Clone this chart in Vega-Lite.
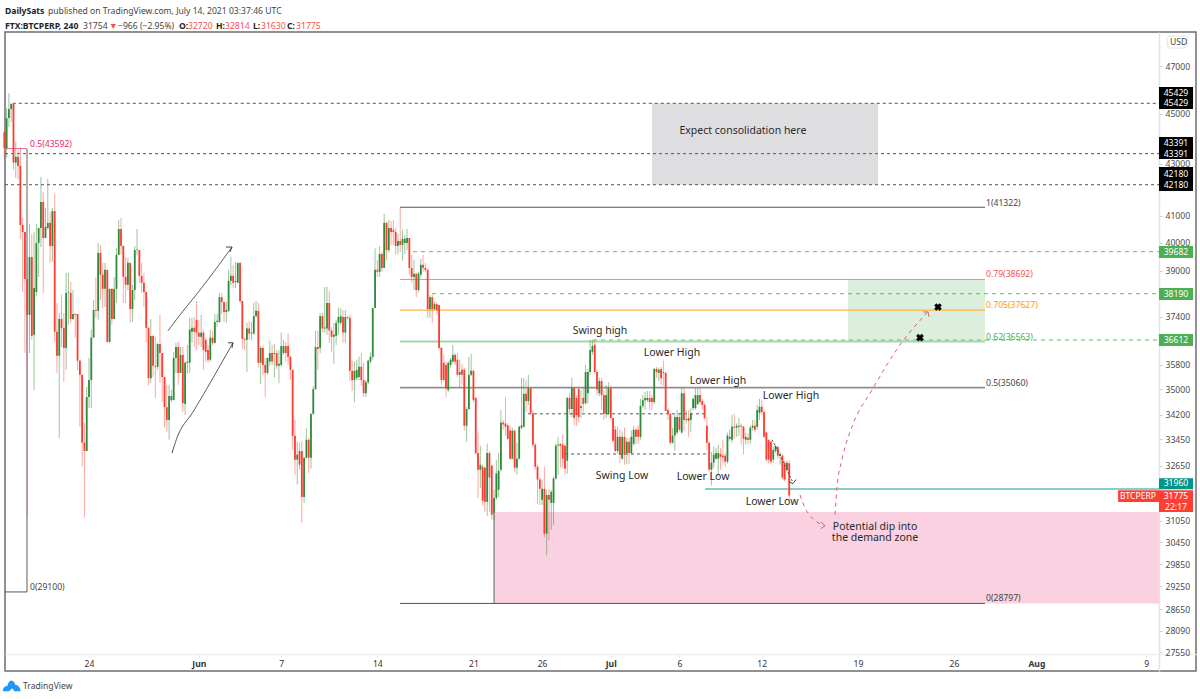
{
"$schema":"https://vega.github.io/schema/vega-lite/v6.json",
"description":"BTCPERP 4h candles with fib levels and annotations",
"width":1191,"height":639,
"autosize":{"type":"none"},
"padding":{"left":5,"top":32,"right":4,"bottom":28},
"background":"#ffffff",
"view":{"stroke":"#6e6e6e","strokeWidth":1.5,"fill":"#ffffff"},
"datasets":{
"zones":[
{"t":"2021-07-04T00:00Z","t2":"2021-07-20T11:15Z","p":45429,"p2":42180,"kind":"consolidation"},
{"t":"2021-07-18T06:43Z","t2":"2021-07-28T06:15Z","p":38692,"p2":36563,"kind":"target"},
{"t":"2021-06-22T12:00Z","t2":"2021-08-09T22:20Z","p":31300,"p2":28797,"kind":"demand"}
],
"candles":[
{"t":"2021-05-17T20:00Z","o":44260,"h":44300,"l":43220,"c":43610},
{"t":"2021-05-18T00:00Z","o":43610,"h":45230,"l":43220,"c":44820},
{"t":"2021-05-18T04:00Z","o":44820,"h":45850,"l":44460,"c":45190},
{"t":"2021-05-18T08:00Z","o":45190,"h":45440,"l":44660,"c":45400},
{"t":"2021-05-18T12:00Z","o":45400,"h":45400,"l":42750,"c":43040},
{"t":"2021-05-18T16:00Z","o":43040,"h":43870,"l":42450,"c":43270},
{"t":"2021-05-18T20:00Z","o":43270,"h":43530,"l":42370,"c":42910},
{"t":"2021-05-19T00:00Z","o":42910,"h":43650,"l":40150,"c":40660},
{"t":"2021-05-19T04:00Z","o":40660,"h":40920,"l":38250,"c":40400},
{"t":"2021-05-19T08:00Z","o":40400,"h":40400,"l":36180,"c":38710},
{"t":"2021-05-19T12:00Z","o":38710,"h":39570,"l":31140,"c":37460},
{"t":"2021-05-19T16:00Z","o":37460,"h":40700,"l":36180,"c":39490},
{"t":"2021-05-19T20:00Z","o":39490,"h":40330,"l":36620,"c":36750},
{"t":"2021-05-20T00:00Z","o":36790,"h":40400,"l":34980,"c":38390},
{"t":"2021-05-20T04:00Z","o":38250,"h":40700,"l":38110,"c":40000},
{"t":"2021-05-20T08:00Z","o":40000,"h":40550,"l":38780,"c":40550},
{"t":"2021-05-20T12:00Z","o":40550,"h":42480,"l":39850,"c":41520},
{"t":"2021-05-20T16:00Z","o":41520,"h":41900,"l":38220,"c":40180},
{"t":"2021-05-20T20:00Z","o":40180,"h":41290,"l":40180,"c":40590},
{"t":"2021-05-21T00:00Z","o":40550,"h":42400,"l":40480,"c":40740},
{"t":"2021-05-21T04:00Z","o":40740,"h":41150,"l":39280,"c":39890},
{"t":"2021-05-21T08:00Z","o":39890,"h":41290,"l":39320,"c":41180},
{"t":"2021-05-21T12:00Z","o":41180,"h":41820,"l":36550,"c":36890},
{"t":"2021-05-21T16:00Z","o":36890,"h":37870,"l":35530,"c":36090},
{"t":"2021-05-21T20:00Z","o":36090,"h":37520,"l":33490,"c":37320},
{"t":"2021-05-22T00:00Z","o":37320,"h":38150,"l":36380,"c":37020},
{"t":"2021-05-22T04:00Z","o":37020,"h":37520,"l":35230,"c":36350},
{"t":"2021-05-22T08:00Z","o":36350,"h":38920,"l":35630,"c":38220},
{"t":"2021-05-22T12:00Z","o":38220,"h":38920,"l":37120,"c":38240},
{"t":"2021-05-22T16:00Z","o":38220,"h":38600,"l":37190,"c":37320},
{"t":"2021-05-22T20:00Z","o":37320,"h":38320,"l":37290,"c":37490},
{"t":"2021-05-23T00:00Z","o":37490,"h":37520,"l":36690,"c":37460},
{"t":"2021-05-23T04:00Z","o":37490,"h":37490,"l":35630,"c":35930},
{"t":"2021-05-23T08:00Z","o":35930,"h":35960,"l":33830,"c":35470},
{"t":"2021-05-23T12:00Z","o":35470,"h":35470,"l":32620,"c":33340},
{"t":"2021-05-23T16:00Z","o":33340,"h":33950,"l":31140,"c":33090},
{"t":"2021-05-23T20:00Z","o":33090,"h":35080,"l":33090,"c":34760},
{"t":"2021-05-24T00:00Z","o":34760,"h":36020,"l":34410,"c":35300},
{"t":"2021-05-24T04:00Z","o":35300,"h":36960,"l":34410,"c":36690},
{"t":"2021-05-24T08:00Z","o":36690,"h":37970,"l":36690,"c":37630},
{"t":"2021-05-24T12:00Z","o":37630,"h":38750,"l":37360,"c":37600},
{"t":"2021-05-24T16:00Z","o":37600,"h":40000,"l":37290,"c":39640},
{"t":"2021-05-24T20:00Z","o":39640,"h":39930,"l":37970,"c":38860},
{"t":"2021-05-25T00:00Z","o":38860,"h":39280,"l":37700,"c":38360},
{"t":"2021-05-25T04:00Z","o":38360,"h":39280,"l":37730,"c":39030},
{"t":"2021-05-25T08:00Z","o":39030,"h":39030,"l":36520,"c":36550},
{"t":"2021-05-25T12:00Z","o":36550,"h":38360,"l":36520,"c":38360},
{"t":"2021-05-25T16:00Z","o":38360,"h":38390,"l":37120,"c":37320},
{"t":"2021-05-25T20:00Z","o":37320,"h":38780,"l":37320,"c":38360},
{"t":"2021-05-26T00:00Z","o":38360,"h":39820,"l":37870,"c":39570},
{"t":"2021-05-26T04:00Z","o":39570,"h":40850,"l":39570,"c":40510},
{"t":"2021-05-26T08:00Z","o":40510,"h":40920,"l":39570,"c":39890},
{"t":"2021-05-26T12:00Z","o":39890,"h":39930,"l":37870,"c":38780},
{"t":"2021-05-26T16:00Z","o":38780,"h":39490,"l":37870,"c":38500},
{"t":"2021-05-26T20:00Z","o":38500,"h":39460,"l":38320,"c":39280},
{"t":"2021-05-27T00:00Z","o":39280,"h":39280,"l":37190,"c":37660},
{"t":"2021-05-27T04:00Z","o":37660,"h":38500,"l":37220,"c":38320},
{"t":"2021-05-27T08:00Z","o":38320,"h":39890,"l":37970,"c":39740},
{"t":"2021-05-27T12:00Z","o":39740,"h":40510,"l":39570,"c":39760},
{"t":"2021-05-27T16:00Z","o":39740,"h":39740,"l":38570,"c":38820},
{"t":"2021-05-27T20:00Z","o":38820,"h":39280,"l":38220,"c":38570},
{"t":"2021-05-28T00:00Z","o":38570,"h":38920,"l":37730,"c":38250},
{"t":"2021-05-28T04:00Z","o":38250,"h":38280,"l":36520,"c":37020},
{"t":"2021-05-28T08:00Z","o":37020,"h":37050,"l":35130,"c":35360},
{"t":"2021-05-28T12:00Z","o":35360,"h":37320,"l":35210,"c":36750},
{"t":"2021-05-28T16:00Z","o":36750,"h":36790,"l":35400,"c":35760},
{"t":"2021-05-28T20:00Z","o":35760,"h":36720,"l":34730,"c":35730},
{"t":"2021-05-29T00:00Z","o":35730,"h":36520,"l":35630,"c":36480},
{"t":"2021-05-29T04:00Z","o":36480,"h":37460,"l":35230,"c":36180},
{"t":"2021-05-29T08:00Z","o":36180,"h":36180,"l":34600,"c":35400},
{"t":"2021-05-29T12:00Z","o":35400,"h":35400,"l":33800,"c":34440},
{"t":"2021-05-29T16:00Z","o":34440,"h":35150,"l":33680,"c":34040},
{"t":"2021-05-29T20:00Z","o":34040,"h":35150,"l":33430,"c":34790},
{"t":"2021-05-30T00:00Z","o":34660,"h":34980,"l":34600,"c":34790},
{"t":"2021-05-30T04:00Z","o":34660,"h":36210,"l":34660,"c":36020},
{"t":"2021-05-30T08:00Z","o":36020,"h":36520,"l":35530,"c":36380},
{"t":"2021-05-30T12:00Z","o":36380,"h":36550,"l":35150,"c":35530},
{"t":"2021-05-30T16:00Z","o":35530,"h":36380,"l":35530,"c":36120},
{"t":"2021-05-30T20:00Z","o":36120,"h":36380,"l":34290,"c":34570},
{"t":"2021-05-31T00:00Z","o":34540,"h":35900,"l":34200,"c":35860},
{"t":"2021-05-31T04:00Z","o":35860,"h":36450,"l":35500,"c":35900},
{"t":"2021-05-31T08:00Z","o":35860,"h":37360,"l":35530,"c":36960},
{"t":"2021-05-31T12:00Z","o":36890,"h":37360,"l":36520,"c":37020},
{"t":"2021-05-31T16:00Z","o":37020,"h":37390,"l":36380,"c":36890},
{"t":"2021-05-31T20:00Z","o":37290,"h":37940,"l":36280,"c":36860},
{"t":"2021-06-01T00:00Z","o":36860,"h":37290,"l":36450,"c":36720},
{"t":"2021-06-01T04:00Z","o":36720,"h":37460,"l":36380,"c":36860},
{"t":"2021-06-01T08:00Z","o":36860,"h":36960,"l":35630,"c":36280},
{"t":"2021-06-01T12:00Z","o":36620,"h":36690,"l":35900,"c":36220},
{"t":"2021-06-01T16:00Z","o":36280,"h":36450,"l":35860,"c":35960},
{"t":"2021-06-01T20:00Z","o":35960,"h":36960,"l":35900,"c":36690},
{"t":"2021-06-02T00:00Z","o":36690,"h":36930,"l":36450,"c":36520},
{"t":"2021-06-02T04:00Z","o":36520,"h":37490,"l":36490,"c":37220},
{"t":"2021-06-02T08:00Z","o":37220,"h":37490,"l":37050,"c":37260},
{"t":"2021-06-02T12:00Z","o":37220,"h":38220,"l":37190,"c":38070},
{"t":"2021-06-02T16:00Z","o":38070,"h":38220,"l":37490,"c":37900},
{"t":"2021-06-02T20:00Z","o":37900,"h":37900,"l":37220,"c":37560},
{"t":"2021-06-03T00:00Z","o":37560,"h":37900,"l":37190,"c":37630},
{"t":"2021-06-03T04:00Z","o":37600,"h":39030,"l":37560,"c":38640},
{"t":"2021-06-03T08:00Z","o":38640,"h":39500,"l":38500,"c":38820},
{"t":"2021-06-03T12:00Z","o":38820,"h":39210,"l":38390,"c":38570},
{"t":"2021-06-03T16:00Z","o":38600,"h":39320,"l":38390,"c":38640},
{"t":"2021-06-03T20:00Z","o":38570,"h":39280,"l":38570,"c":39280},
{"t":"2021-06-04T00:00Z","o":39280,"h":39280,"l":37870,"c":37940},
{"t":"2021-06-04T04:00Z","o":37940,"h":37940,"l":36310,"c":36650},
{"t":"2021-06-04T08:00Z","o":36650,"h":36690,"l":36280,"c":36620},
{"t":"2021-06-04T12:00Z","o":36620,"h":37190,"l":35560,"c":37000},
{"t":"2021-06-04T16:00Z","o":37000,"h":37260,"l":36620,"c":36830},
{"t":"2021-06-04T20:00Z","o":36830,"h":37220,"l":36620,"c":36860},
{"t":"2021-06-05T00:00Z","o":36830,"h":37870,"l":36790,"c":37420},
{"t":"2021-06-05T04:00Z","o":37420,"h":37940,"l":37360,"c":37600},
{"t":"2021-06-05T08:00Z","o":37600,"h":37870,"l":35700,"c":35860},
{"t":"2021-06-05T12:00Z","o":35860,"h":36420,"l":35170,"c":36350},
{"t":"2021-06-05T16:00Z","o":36350,"h":36420,"l":35470,"c":35790},
{"t":"2021-06-05T20:00Z","o":35790,"h":36020,"l":34760,"c":35530},
{"t":"2021-06-06T00:00Z","o":35530,"h":36020,"l":35470,"c":36020},
{"t":"2021-06-06T04:00Z","o":35900,"h":36590,"l":35770,"c":36180},
{"t":"2021-06-06T08:00Z","o":36180,"h":36450,"l":35790,"c":35900},
{"t":"2021-06-06T12:00Z","o":36150,"h":36490,"l":35370,"c":36180},
{"t":"2021-06-06T16:00Z","o":36180,"h":36280,"l":35660,"c":35760},
{"t":"2021-06-06T20:00Z","o":35760,"h":36280,"l":35200,"c":35830},
{"t":"2021-06-07T00:00Z","o":35790,"h":36860,"l":35730,"c":36410},
{"t":"2021-06-07T04:00Z","o":36180,"h":36620,"l":36120,"c":36410},
{"t":"2021-06-07T08:00Z","o":36410,"h":36550,"l":35900,"c":36180},
{"t":"2021-06-07T12:00Z","o":36410,"h":36830,"l":35790,"c":36060},
{"t":"2021-06-07T16:00Z","o":36060,"h":36090,"l":35300,"c":35630},
{"t":"2021-06-07T20:00Z","o":35630,"h":35630,"l":33120,"c":33550},
{"t":"2021-06-08T00:00Z","o":33550,"h":34040,"l":32380,"c":32830},
{"t":"2021-06-08T04:00Z","o":32830,"h":33370,"l":32090,"c":32980},
{"t":"2021-06-08T08:00Z","o":33090,"h":33340,"l":32530,"c":32680},
{"t":"2021-06-08T12:00Z","o":33090,"h":33400,"l":30990,"c":31730},
{"t":"2021-06-08T16:00Z","o":31730,"h":32890,"l":31560,"c":32890},
{"t":"2021-06-08T20:00Z","o":32890,"h":33800,"l":32860,"c":33430},
{"t":"2021-06-09T00:00Z","o":33430,"h":33490,"l":32440,"c":32890},
{"t":"2021-06-09T04:00Z","o":32890,"h":34230,"l":32560,"c":34230},
{"t":"2021-06-09T08:00Z","o":34230,"h":35110,"l":34200,"c":35010},
{"t":"2021-06-09T12:00Z","o":35010,"h":36930,"l":34980,"c":36380},
{"t":"2021-06-09T16:00Z","o":36380,"h":36930,"l":35630,"c":36310},
{"t":"2021-06-09T20:00Z","o":36350,"h":37520,"l":36180,"c":37420},
{"t":"2021-06-10T00:00Z","o":37420,"h":37520,"l":36860,"c":37000},
{"t":"2021-06-10T04:00Z","o":37000,"h":38430,"l":36860,"c":37030},
{"t":"2021-06-10T08:00Z","o":37000,"h":38430,"l":36790,"c":37870},
{"t":"2021-06-10T12:00Z","o":37870,"h":38280,"l":36520,"c":36930},
{"t":"2021-06-10T16:00Z","o":36930,"h":37050,"l":36220,"c":36720},
{"t":"2021-06-10T20:00Z","o":36720,"h":37190,"l":35830,"c":36790},
{"t":"2021-06-11T00:00Z","o":36750,"h":37290,"l":36450,"c":37190},
{"t":"2021-06-11T04:00Z","o":37190,"h":37700,"l":36790,"c":37390},
{"t":"2021-06-11T08:00Z","o":37190,"h":37700,"l":37120,"c":37420},
{"t":"2021-06-11T12:00Z","o":37390,"h":37630,"l":36520,"c":36860},
{"t":"2021-06-11T16:00Z","o":36860,"h":37630,"l":36520,"c":37390},
{"t":"2021-06-11T20:00Z","o":37390,"h":37420,"l":37290,"c":37360},
{"t":"2021-06-12T00:00Z","o":37360,"h":37460,"l":35270,"c":35600},
{"t":"2021-06-12T04:00Z","o":35600,"h":35930,"l":34950,"c":35300},
{"t":"2021-06-12T08:00Z","o":35300,"h":35900,"l":34600,"c":35600},
{"t":"2021-06-12T12:00Z","o":35370,"h":35960,"l":35300,"c":35630},
{"t":"2021-06-12T16:00Z","o":35400,"h":36060,"l":35300,"c":35730},
{"t":"2021-06-12T20:00Z","o":35730,"h":36180,"l":35110,"c":35300},
{"t":"2021-06-13T00:00Z","o":35300,"h":35860,"l":34760,"c":34880},
{"t":"2021-06-13T04:00Z","o":34880,"h":35300,"l":34760,"c":35230},
{"t":"2021-06-13T08:00Z","o":35230,"h":35960,"l":35170,"c":35930},
{"t":"2021-06-13T12:00Z","o":35900,"h":36200,"l":35830,"c":36060},
{"t":"2021-06-13T16:00Z","o":36060,"h":37700,"l":35960,"c":37700},
{"t":"2021-06-13T20:00Z","o":37700,"h":39800,"l":37700,"c":39030},
{"t":"2021-06-14T00:00Z","o":39030,"h":39390,"l":38780,"c":38960},
{"t":"2021-06-14T04:00Z","o":38960,"h":39890,"l":38780,"c":39600},
{"t":"2021-06-14T08:00Z","o":39600,"h":39670,"l":38960,"c":39100},
{"t":"2021-06-14T12:00Z","o":39100,"h":41070,"l":39100,"c":40740},
{"t":"2021-06-14T16:00Z","o":40740,"h":40780,"l":39360,"c":39740},
{"t":"2021-06-14T20:00Z","o":39740,"h":40850,"l":39670,"c":40550},
{"t":"2021-06-15T00:00Z","o":40550,"h":40810,"l":39930,"c":40400},
{"t":"2021-06-15T04:00Z","o":40480,"h":40850,"l":39930,"c":40400},
{"t":"2021-06-15T08:00Z","o":40400,"h":40550,"l":39570,"c":39890},
{"t":"2021-06-15T12:00Z","o":39890,"h":40330,"l":39600,"c":40070},
{"t":"2021-06-15T16:00Z","o":40070,"h":41320,"l":39670,"c":39930},
{"t":"2021-06-15T20:00Z","o":39930,"h":40480,"l":39360,"c":40150},
{"t":"2021-06-16T00:00Z","o":40000,"h":40290,"l":39600,"c":40150},
{"t":"2021-06-16T04:00Z","o":40000,"h":40510,"l":39740,"c":40180},
{"t":"2021-06-16T08:00Z","o":40180,"h":40180,"l":38860,"c":39100},
{"t":"2021-06-16T12:00Z","o":39100,"h":39570,"l":38570,"c":38780},
{"t":"2021-06-16T16:00Z","o":38780,"h":39390,"l":38320,"c":38890},
{"t":"2021-06-16T20:00Z","o":38890,"h":38920,"l":38070,"c":38320},
{"t":"2021-06-17T00:00Z","o":38320,"h":38960,"l":38250,"c":38890},
{"t":"2021-06-17T04:00Z","o":38860,"h":39420,"l":38750,"c":39210},
{"t":"2021-06-17T08:00Z","o":39210,"h":39570,"l":38960,"c":39100},
{"t":"2021-06-17T12:00Z","o":39100,"h":39280,"l":38960,"c":39030},
{"t":"2021-06-17T16:00Z","o":39030,"h":39070,"l":37360,"c":37660},
{"t":"2021-06-17T20:00Z","o":37660,"h":38140,"l":37360,"c":38070},
{"t":"2021-06-18T00:00Z","o":38070,"h":38140,"l":37190,"c":37660},
{"t":"2021-06-18T04:00Z","o":37660,"h":37900,"l":37630,"c":37830},
{"t":"2021-06-18T08:00Z","o":37830,"h":37900,"l":37460,"c":37630},
{"t":"2021-06-18T12:00Z","o":37800,"h":37800,"l":36280,"c":36350},
{"t":"2021-06-18T16:00Z","o":36350,"h":36380,"l":35140,"c":35300},
{"t":"2021-06-18T20:00Z","o":35860,"h":36120,"l":35240,"c":35300},
{"t":"2021-06-19T00:00Z","o":35790,"h":35900,"l":34760,"c":35040},
{"t":"2021-06-19T04:00Z","o":34980,"h":35900,"l":34920,"c":35860},
{"t":"2021-06-19T08:00Z","o":35790,"h":36020,"l":35700,"c":35960},
{"t":"2021-06-19T12:00Z","o":35900,"h":36450,"l":35830,"c":36120},
{"t":"2021-06-19T16:00Z","o":36120,"h":36180,"l":35790,"c":35900},
{"t":"2021-06-19T20:00Z","o":35960,"h":36180,"l":35400,"c":35470},
{"t":"2021-06-20T00:00Z","o":35470,"h":35960,"l":35050,"c":35560},
{"t":"2021-06-20T04:00Z","o":35630,"h":35830,"l":35140,"c":35470},
{"t":"2021-06-20T08:00Z","o":35630,"h":35700,"l":33710,"c":33860},
{"t":"2021-06-20T12:00Z","o":33860,"h":34440,"l":33370,"c":34380},
{"t":"2021-06-20T16:00Z","o":34380,"h":36050,"l":34350,"c":35470},
{"t":"2021-06-20T20:00Z","o":35470,"h":36150,"l":35430,"c":35600},
{"t":"2021-06-21T00:00Z","o":35600,"h":35630,"l":34600,"c":34660},
{"t":"2021-06-21T04:00Z","o":34730,"h":34760,"l":32970,"c":33030},
{"t":"2021-06-21T08:00Z","o":33030,"h":33650,"l":31700,"c":32530},
{"t":"2021-06-21T12:00Z","o":32530,"h":33250,"l":32000,"c":32680},
{"t":"2021-06-21T16:00Z","o":32620,"h":32680,"l":31500,"c":31620},
{"t":"2021-06-21T20:00Z","o":32590,"h":32620,"l":31300,"c":31590},
{"t":"2021-06-22T00:00Z","o":31590,"h":33310,"l":31190,"c":33030},
{"t":"2021-06-22T04:00Z","o":33030,"h":33090,"l":31300,"c":32300},
{"t":"2021-06-22T08:00Z","o":32650,"h":32680,"l":31080,"c":31220},
{"t":"2021-06-22T12:00Z","o":31280,"h":31940,"l":31080,"c":31700},
{"t":"2021-06-22T16:00Z","o":31700,"h":32830,"l":31650,"c":32420},
{"t":"2021-06-22T20:00Z","o":31940,"h":33030,"l":31730,"c":32500},
{"t":"2021-06-23T00:00Z","o":32530,"h":34350,"l":32470,"c":33960},
{"t":"2021-06-23T04:00Z","o":33960,"h":34040,"l":33740,"c":33900},
{"t":"2021-06-23T08:00Z","o":33930,"h":34760,"l":33550,"c":33830},
{"t":"2021-06-23T12:00Z","o":33870,"h":33930,"l":33430,"c":33460},
{"t":"2021-06-23T16:00Z","o":33710,"h":33870,"l":32830,"c":32860},
{"t":"2021-06-23T20:00Z","o":32860,"h":33800,"l":32830,"c":33710},
{"t":"2021-06-24T00:00Z","o":33710,"h":33740,"l":32470,"c":32590},
{"t":"2021-06-24T04:00Z","o":32590,"h":33340,"l":32380,"c":32860},
{"t":"2021-06-24T08:00Z","o":32860,"h":33870,"l":32830,"c":33830},
{"t":"2021-06-24T12:00Z","o":33800,"h":35370,"l":33740,"c":33870},
{"t":"2021-06-24T16:00Z","o":33830,"h":35370,"l":33800,"c":34860},
{"t":"2021-06-24T20:00Z","o":34860,"h":35300,"l":34290,"c":34630},
{"t":"2021-06-25T00:00Z","o":34630,"h":35470,"l":34510,"c":35040},
{"t":"2021-06-25T04:00Z","o":35040,"h":35080,"l":34230,"c":34250},
{"t":"2021-06-25T08:00Z","o":34250,"h":34350,"l":33220,"c":33280},
{"t":"2021-06-25T12:00Z","o":33280,"h":33340,"l":32530,"c":32620},
{"t":"2021-06-25T16:00Z","o":32620,"h":32680,"l":31530,"c":32240},
{"t":"2021-06-25T20:00Z","o":32240,"h":32300,"l":31500,"c":31970},
{"t":"2021-06-26T00:00Z","o":31650,"h":32240,"l":31500,"c":31970},
{"t":"2021-06-26T04:00Z","o":31970,"h":32620,"l":30580,"c":30690},
{"t":"2021-06-26T08:00Z","o":30690,"h":31940,"l":30090,"c":31790},
{"t":"2021-06-26T12:00Z","o":31790,"h":31970,"l":30490,"c":31650},
{"t":"2021-06-26T16:00Z","o":31560,"h":31940,"l":30800,"c":31880},
{"t":"2021-06-26T20:00Z","o":31560,"h":32330,"l":30940,"c":32270},
{"t":"2021-06-27T00:00Z","o":32270,"h":33310,"l":32240,"c":33250},
{"t":"2021-06-27T04:00Z","o":33250,"h":33520,"l":32380,"c":33280},
{"t":"2021-06-27T08:00Z","o":33310,"h":33310,"l":32590,"c":33250},
{"t":"2021-06-27T12:00Z","o":33280,"h":33590,"l":32590,"c":32860},
{"t":"2021-06-27T16:00Z","o":33250,"h":33310,"l":32380,"c":32560},
{"t":"2021-06-27T20:00Z","o":32800,"h":34760,"l":32410,"c":34730},
{"t":"2021-06-28T00:00Z","o":34730,"h":34880,"l":34200,"c":34380},
{"t":"2021-06-28T04:00Z","o":34380,"h":35370,"l":34130,"c":35040},
{"t":"2021-06-28T08:00Z","o":35040,"h":35080,"l":33870,"c":34100},
{"t":"2021-06-28T12:00Z","o":34730,"h":34820,"l":33860,"c":34190},
{"t":"2021-06-28T16:00Z","o":35010,"h":35040,"l":33960,"c":34130},
{"t":"2021-06-28T20:00Z","o":34410,"h":34980,"l":34100,"c":34470},
{"t":"2021-06-29T00:00Z","o":34730,"h":35040,"l":34290,"c":34540},
{"t":"2021-06-29T04:00Z","o":34570,"h":35790,"l":34510,"c":35560},
{"t":"2021-06-29T08:00Z","o":34880,"h":35660,"l":34540,"c":35560},
{"t":"2021-06-29T12:00Z","o":35560,"h":36620,"l":35470,"c":36280},
{"t":"2021-06-29T16:00Z","o":36220,"h":36620,"l":36120,"c":36410},
{"t":"2021-06-29T20:00Z","o":36450,"h":36620,"l":35500,"c":35560},
{"t":"2021-06-30T00:00Z","o":35560,"h":35630,"l":34820,"c":35000},
{"t":"2021-06-30T04:00Z","o":34880,"h":35370,"l":34790,"c":35270},
{"t":"2021-06-30T08:00Z","o":35270,"h":35370,"l":34350,"c":34820},
{"t":"2021-06-30T12:00Z","o":34820,"h":34980,"l":34040,"c":34230},
{"t":"2021-06-30T16:00Z","o":34230,"h":35140,"l":34100,"c":34820},
{"t":"2021-06-30T20:00Z","o":34230,"h":35230,"l":34200,"c":35040},
{"t":"2021-07-01T00:00Z","o":35040,"h":35110,"l":34040,"c":34100},
{"t":"2021-07-01T04:00Z","o":34100,"h":34100,"l":33340,"c":33400},
{"t":"2021-07-01T08:00Z","o":33740,"h":33860,"l":33060,"c":33090},
{"t":"2021-07-01T12:00Z","o":33090,"h":33830,"l":33000,"c":33520},
{"t":"2021-07-01T16:00Z","o":33520,"h":33740,"l":32740,"c":32980},
{"t":"2021-07-01T20:00Z","o":32860,"h":33680,"l":32830,"c":33520},
{"t":"2021-07-02T00:00Z","o":33520,"h":33800,"l":32680,"c":32980},
{"t":"2021-07-02T04:00Z","o":33030,"h":33490,"l":32680,"c":33370},
{"t":"2021-07-02T08:00Z","o":33370,"h":33490,"l":32710,"c":33030},
{"t":"2021-07-02T12:00Z","o":33030,"h":33710,"l":32980,"c":33520},
{"t":"2021-07-02T16:00Z","o":33310,"h":33860,"l":33250,"c":33740},
{"t":"2021-07-02T20:00Z","o":33740,"h":33800,"l":33280,"c":33520},
{"t":"2021-07-03T00:00Z","o":33740,"h":33870,"l":33310,"c":33520},
{"t":"2021-07-03T04:00Z","o":33520,"h":34700,"l":33430,"c":34480},
{"t":"2021-07-03T08:00Z","o":34480,"h":34820,"l":34410,"c":34660},
{"t":"2021-07-03T12:00Z","o":34660,"h":34920,"l":34350,"c":34730},
{"t":"2021-07-03T16:00Z","o":34660,"h":34950,"l":34600,"c":34730},
{"t":"2021-07-03T20:00Z","o":34730,"h":34950,"l":34350,"c":34600},
{"t":"2021-07-04T00:00Z","o":34730,"h":34820,"l":34350,"c":34600},
{"t":"2021-07-04T04:00Z","o":34600,"h":35700,"l":34540,"c":35660},
{"t":"2021-07-04T08:00Z","o":35660,"h":35730,"l":35370,"c":35560},
{"t":"2021-07-04T12:00Z","o":35530,"h":35700,"l":35270,"c":35630},
{"t":"2021-07-04T16:00Z","o":35660,"h":35730,"l":35140,"c":35360},
{"t":"2021-07-04T20:00Z","o":35560,"h":35930,"l":35110,"c":35530},
{"t":"2021-07-05T00:00Z","o":35530,"h":35560,"l":34320,"c":34320},
{"t":"2021-07-05T04:00Z","o":34350,"h":34410,"l":34040,"c":34230},
{"t":"2021-07-05T08:00Z","o":34230,"h":34260,"l":33280,"c":33340},
{"t":"2021-07-05T12:00Z","o":33340,"h":33800,"l":33310,"c":33560},
{"t":"2021-07-05T16:00Z","o":33560,"h":34200,"l":33090,"c":34130},
{"t":"2021-07-05T20:00Z","o":33650,"h":34350,"l":33590,"c":34130},
{"t":"2021-07-06T00:00Z","o":34130,"h":34230,"l":33680,"c":33740},
{"t":"2021-07-06T04:00Z","o":33650,"h":35050,"l":33620,"c":34880},
{"t":"2021-07-06T08:00Z","o":34880,"h":35050,"l":33710,"c":34040},
{"t":"2021-07-06T12:00Z","o":34040,"h":34350,"l":33930,"c":34070},
{"t":"2021-07-06T16:00Z","o":34100,"h":34350,"l":33520,"c":34010},
{"t":"2021-07-06T20:00Z","o":34040,"h":34410,"l":33680,"c":34230},
{"t":"2021-07-07T00:00Z","o":34410,"h":34730,"l":34350,"c":34700},
{"t":"2021-07-07T04:00Z","o":34410,"h":35040,"l":34350,"c":34820},
{"t":"2021-07-07T08:00Z","o":34540,"h":35040,"l":34510,"c":34820},
{"t":"2021-07-07T12:00Z","o":34820,"h":35080,"l":34510,"c":34600},
{"t":"2021-07-07T16:00Z","o":34630,"h":34700,"l":34350,"c":34510},
{"t":"2021-07-07T20:00Z","o":34510,"h":34570,"l":34040,"c":34100},
{"t":"2021-07-08T00:00Z","o":33860,"h":34130,"l":33120,"c":33340},
{"t":"2021-07-08T04:00Z","o":33340,"h":33370,"l":32470,"c":32530},
{"t":"2021-07-08T08:00Z","o":32530,"h":33060,"l":32060,"c":32740},
{"t":"2021-07-08T12:00Z","o":32740,"h":33220,"l":32590,"c":32980},
{"t":"2021-07-08T16:00Z","o":32860,"h":33190,"l":32830,"c":33030},
{"t":"2021-07-08T20:00Z","o":32860,"h":33280,"l":32330,"c":33030},
{"t":"2021-07-09T00:00Z","o":33000,"h":33190,"l":32530,"c":32920},
{"t":"2021-07-09T04:00Z","o":32950,"h":33430,"l":32680,"c":32900},
{"t":"2021-07-09T08:00Z","o":32950,"h":33030,"l":32620,"c":32770},
{"t":"2021-07-09T12:00Z","o":32770,"h":33650,"l":32710,"c":33560},
{"t":"2021-07-09T16:00Z","o":33460,"h":33740,"l":33400,"c":33520},
{"t":"2021-07-09T20:00Z","o":33430,"h":34200,"l":33340,"c":33830},
{"t":"2021-07-10T00:00Z","o":33830,"h":34230,"l":33460,"c":33800},
{"t":"2021-07-10T04:00Z","o":33800,"h":33930,"l":33520,"c":33860},
{"t":"2021-07-10T08:00Z","o":33830,"h":34100,"l":33550,"c":33860},
{"t":"2021-07-10T12:00Z","o":33860,"h":33930,"l":33280,"c":33830},
{"t":"2021-07-10T16:00Z","o":33830,"h":33860,"l":32980,"c":33460},
{"t":"2021-07-10T20:00Z","o":33430,"h":33650,"l":33280,"c":33520},
{"t":"2021-07-11T00:00Z","o":33490,"h":33620,"l":33310,"c":33430},
{"t":"2021-07-11T04:00Z","o":33430,"h":33870,"l":33310,"c":33800},
{"t":"2021-07-11T08:00Z","o":33800,"h":34040,"l":33710,"c":33860},
{"t":"2021-07-11T12:00Z","o":33860,"h":34040,"l":33650,"c":33740},
{"t":"2021-07-11T16:00Z","o":33830,"h":34510,"l":33740,"c":34350},
{"t":"2021-07-11T20:00Z","o":34260,"h":34700,"l":34040,"c":34450},
{"t":"2021-07-12T00:00Z","o":34450,"h":34660,"l":34200,"c":34290},
{"t":"2021-07-12T04:00Z","o":34290,"h":34350,"l":33490,"c":33520},
{"t":"2021-07-12T08:00Z","o":33650,"h":33680,"l":32770,"c":32830},
{"t":"2021-07-12T12:00Z","o":33430,"h":33430,"l":32710,"c":32830},
{"t":"2021-07-12T16:00Z","o":33370,"h":33400,"l":32680,"c":32770},
{"t":"2021-07-12T20:00Z","o":32830,"h":33220,"l":32740,"c":33120},
{"t":"2021-07-13T00:00Z","o":33090,"h":33280,"l":33030,"c":33240},
{"t":"2021-07-13T04:00Z","o":33210,"h":33250,"l":32860,"c":32950},
{"t":"2021-07-13T08:00Z","o":32950,"h":33060,"l":32680,"c":33000},
{"t":"2021-07-13T12:00Z","o":32950,"h":32980,"l":32240,"c":32300},
{"t":"2021-07-13T16:00Z","o":32740,"h":32800,"l":32180,"c":32240},
{"t":"2021-07-13T20:00Z","o":32530,"h":32800,"l":32470,"c":32740},
{"t":"2021-07-14T00:00Z","o":32720,"h":32814,"l":31630,"c":31775}
],
"levels":[
{"t":"2021-05-18T10:48Z","t2":"2021-08-09T22:20Z","p":45429,"kind":"black dash"},
{"t":"2021-05-17T21:10Z","t2":"2021-08-09T22:20Z","p":43391,"kind":"black dash"},
{"t":"2021-05-17T21:10Z","t2":"2021-08-09T22:20Z","p":42180,"kind":"black dash"},
{"t":"2021-06-24T23:20Z","t2":"2021-07-07T20:50Z","p":34230,"kind":"black dash"},
{"t":"2021-06-27T16:00Z","t2":"2021-07-08T05:30Z","p":33000,"kind":"black dash"},
{"t":"2021-06-16T14:24Z","t2":"2021-08-09T22:20Z","p":39682,"kind":"green dash"},
{"t":"2021-06-17T23:30Z","t2":"2021-08-09T22:20Z","p":38190,"kind":"green dash"},
{"t":"2021-06-29T17:00Z","t2":"2021-08-09T22:20Z","p":36612,"kind":"green dash"},
{"t":"2021-06-15T15:40Z","t2":"2021-07-28T06:15Z","p":41322,"kind":"fib dark"},
{"t":"2021-06-15T15:40Z","t2":"2021-07-28T06:15Z","p":38692,"kind":"fib 0.79"},
{"t":"2021-06-15T15:40Z","t2":"2021-07-28T06:15Z","p":37627,"kind":"fib 0.705"},
{"t":"2021-06-15T15:40Z","t2":"2021-07-28T06:15Z","p":36563,"kind":"fib 0.62"},
{"t":"2021-06-15T15:40Z","t2":"2021-07-28T06:15Z","p":35060,"kind":"fib 0.5"},
{"t":"2021-06-15T15:40Z","t2":"2021-07-28T06:15Z","p":28797,"kind":"fib dark"},
{"t":"2021-05-17T21:10Z","t2":"2021-05-19T11:36Z","p":43592,"kind":"old 0.5"},
{"t":"2021-05-17T21:10Z","t2":"2021-05-19T11:36Z","p":29100,"kind":"fib dark"},
{"t":"2021-07-07T20:50Z","t2":"2021-08-09T22:20Z","p":31960,"kind":"teal"}
],
"verticals":[
{"t":"2021-05-19T11:36Z","p":43592,"p2":29100},
{"t":"2021-06-22T12:00Z","p":31300,"p2":28797}
],
"curves":[
{"id":"up1","n":1,"t":"2021-05-29T18:06Z","p":36925,"kind":"black"},
{"id":"up1","n":2,"t":"2021-05-30T15:04Z","p":37460,"kind":"black"},
{"id":"up1","n":3,"t":"2021-06-01T02:00Z","p":38320,"kind":"black"},
{"id":"up1","n":4,"t":"2021-06-03T10:00Z","p":39850,"kind":"black"},
{"id":"up2","n":1,"t":"2021-05-30T01:05Z","p":33030,"kind":"black"},
{"id":"up2","n":2,"t":"2021-05-30T09:49Z","p":33490,"kind":"black"},
{"id":"up2","n":3,"t":"2021-05-31T13:48Z","p":34290,"kind":"black"},
{"id":"up2","n":4,"t":"2021-06-03T11:42Z","p":36520,"kind":"black"},
{"id":"dip","n":1,"t":"2021-07-14T18:50Z","p":31790,"kind":"red"},
{"id":"dip","n":2,"t":"2021-07-15T03:30Z","p":31420,"kind":"red"},
{"id":"dip","n":3,"t":"2021-07-15T17:30Z","p":31110,"kind":"red"},
{"id":"dip","n":4,"t":"2021-07-16T14:30Z","p":30910,"kind":"red"},
{"id":"rise","n":1,"t":"2021-07-17T08:00Z","p":31220,"kind":"red"},
{"id":"rise","n":2,"t":"2021-07-17T11:30Z","p":32000,"kind":"red"},
{"id":"rise","n":3,"t":"2021-07-17T20:10Z","p":32830,"kind":"red"},
{"id":"rise","n":4,"t":"2021-07-18T13:40Z","p":33830,"kind":"red"},
{"id":"rise","n":5,"t":"2021-07-20T00:40Z","p":34980,"kind":"red"},
{"id":"rise","n":6,"t":"2021-07-22T01:40Z","p":36450,"kind":"red"},
{"id":"rise","n":7,"t":"2021-07-24T00:40Z","p":37530,"kind":"red"},
{"id":"last","n":1,"t":"2021-07-12T18:00Z","p":33430,"kind":"dark dash"},
{"id":"last","n":2,"t":"2021-07-13T11:20Z","p":32830,"kind":"dark dash"},
{"id":"last","n":3,"t":"2021-07-14T06:30Z","p":32150,"kind":"dark dash"}
],
"heads":[
{"id":"up1","n":1,"t":"2021-06-02T23:28Z","p":39850,"kind":"black"},
{"id":"up1","n":2,"t":"2021-06-03T10:00Z","p":39850,"kind":"black"},
{"id":"up1","n":3,"t":"2021-06-03T06:28Z","p":39670,"kind":"black"},
{"id":"up2","n":1,"t":"2021-06-03T02:58Z","p":36520,"kind":"black"},
{"id":"up2","n":2,"t":"2021-06-03T11:42Z","p":36520,"kind":"black"},
{"id":"up2","n":3,"t":"2021-06-03T09:58Z","p":36350,"kind":"black"},
{"id":"dip","n":1,"t":"2021-07-16T07:30Z","p":31020,"kind":"red"},
{"id":"dip","n":2,"t":"2021-07-16T14:30Z","p":30910,"kind":"red"},
{"id":"dip","n":3,"t":"2021-07-16T07:30Z","p":30830,"kind":"red"},
{"id":"rise","n":1,"t":"2021-07-23T17:50Z","p":37560,"kind":"red"},
{"id":"rise","n":2,"t":"2021-07-24T02:40Z","p":37560,"kind":"red"},
{"id":"rise","n":3,"t":"2021-07-24T04:20Z","p":37390,"kind":"red"},
{"id":"last","n":1,"t":"2021-07-13T23:30Z","p":32180,"kind":"black"},
{"id":"last","n":2,"t":"2021-07-14T06:30Z","p":32120,"kind":"black"},
{"id":"last","n":3,"t":"2021-07-14T11:50Z","p":32240,"kind":"black"}
],
"crosses":[
{"t":"2021-07-24T20:00Z","p":37730},
{"t":"2021-07-23T12:30Z","p":36690}
],
"logo":[
{"t":"2021-05-18T09:00Z","p":26710}
],
"usd":[
{"t":"2021-08-10T12:30Z","t2":"2021-08-11T23:20Z","p":48304,"p2":47777}
],
"boxes":[
{"t":"2021-08-09T22:20Z","t2":"2021-08-12T09:50Z","p":46109,"p2":45194,"kind":"black"},
{"t":"2021-08-09T22:20Z","t2":"2021-08-12T09:50Z","p":44054,"p2":43180,"kind":"black"},
{"t":"2021-08-09T22:20Z","t2":"2021-08-12T09:50Z","p":42864,"p2":41938,"kind":"black"},
{"t":"2021-08-09T22:20Z","t2":"2021-08-12T09:50Z","p":39888,"p2":39450,"kind":"green"},
{"t":"2021-08-09T22:20Z","t2":"2021-08-12T09:50Z","p":38388,"p2":37972,"kind":"green"},
{"t":"2021-08-09T22:20Z","t2":"2021-08-12T09:50Z","p":36810,"p2":36410,"kind":"green"},
{"t":"2021-08-09T22:20Z","t2":"2021-08-12T09:50Z","p":32280,"p2":31958,"kind":"teal"},
{"t":"2021-08-06T22:48Z","t2":"2021-08-09T22:20Z","p":31930,"p2":31584,"kind":"red"},
{"t":"2021-08-09T22:20Z","t2":"2021-08-12T09:50Z","p":31930,"p2":31300,"kind":"red"}
],
"boxtext":[
{"t":"2021-08-11T04:00Z","p":45870,"text":"45429"},
{"t":"2021-08-11T04:00Z","p":45429,"text":"45429"},
{"t":"2021-08-11T04:00Z","p":43814,"text":"43391"},
{"t":"2021-08-11T04:00Z","p":43391,"text":"43391"},
{"t":"2021-08-11T04:00Z","p":42590,"text":"42180"},
{"t":"2021-08-11T04:00Z","p":42180,"text":"42180"},
{"t":"2021-08-11T04:00Z","p":39682,"text":"39682"},
{"t":"2021-08-11T04:00Z","p":38190,"text":"38190"},
{"t":"2021-08-11T04:00Z","p":36612,"text":"36612"},
{"t":"2021-08-11T04:00Z","p":32140,"text":"31960"},
{"t":"2021-08-11T04:00Z","p":31757,"text":"31775"},
{"t":"2021-08-11T04:00Z","p":31440,"text":"22:17"},
{"t":"2021-08-08T09:36Z","p":31757,"text":"BTCPERP"}
],
"small":[
{"t":"2021-07-28T08:00Z","p":41480,"text":"1(41322)","kind":"grey"},
{"t":"2021-07-28T08:00Z","p":38890,"text":"0.79(38692)","kind":"red"},
{"t":"2021-07-28T08:00Z","p":37800,"text":"0.705(37627)","kind":"orange"},
{"t":"2021-07-28T08:00Z","p":36720,"text":"0.62(36563)","kind":"green"},
{"t":"2021-07-28T08:00Z","p":35210,"text":"0.5(35060)","kind":"grey"},
{"t":"2021-07-28T08:00Z","p":28940,"text":"0(28797)","kind":"grey"},
{"t":"2021-05-19T16:53Z","p":43775,"text":"0.5(43592)","kind":"pink"},
{"t":"2021-05-19T16:53Z","p":29230,"text":"0(29100)","kind":"grey"},
{"t":"2021-05-21T00:20Z","p":49417,"text":"published on TradingView.com, July 14, 2021 03:37:46 UTC","kind":"grey"},
{"t":"2021-05-23T13:30Z","p":48745,"text":"31754","kind":"grey"},
{"t":"2021-05-25T11:00Z","p":48745,"text":"▼","kind":"red"},
{"t":"2021-05-26T02:40Z","p":48745,"text":"−966 (−2.95%)","kind":"grey"},
{"t":"2021-05-31T05:02Z","p":48745,"text":"32720","kind":"red"},
{"t":"2021-06-02T21:43Z","p":48745,"text":"32814","kind":"red"},
{"t":"2021-06-05T12:39Z","p":48745,"text":"31630","kind":"red"},
{"t":"2021-06-08T01:55Z","p":48745,"text":"31775","kind":"red"},
{"t":"2021-05-19T04:38Z","p":26710,"text":"TradingView","kind":"grey"},
{"t":"2021-08-10T17:30Z","p":48037,"text":"USD","kind":"grey"}
],
"bold":[
{"t":"2021-05-17T21:10Z","p":49417,"text":"DailySats"},
{"t":"2021-05-17T21:10Z","p":48745,"text":"FTX:BTCPERP, 240"},
{"t":"2021-05-30T13:19Z","p":48745,"text":"O:"},
{"t":"2021-06-02T06:00Z","p":48745,"text":"H:"},
{"t":"2021-06-04T22:39Z","p":48745,"text":"L:"},
{"t":"2021-06-07T10:04Z","p":48745,"text":"C:"}
],
"notes":[
{"t":"2021-07-10T15:00Z","p":44300,"text":"Expect consolidation here"},
{"t":"2021-06-30T05:16Z","p":36930,"text":"Swing high"},
{"t":"2021-07-05T11:00Z","p":36180,"text":"Lower High"},
{"t":"2021-07-08T19:30Z","p":35270,"text":"Lower High"},
{"t":"2021-07-14T03:00Z","p":34790,"text":"Lower High"},
{"t":"2021-07-01T19:40Z","p":32330,"text":"Swing Low"},
{"t":"2021-07-07T17:20Z","p":32300,"text":"Lower Low"},
{"t":"2021-07-12T18:00Z","p":31590,"text":"Lower Low"},
{"t":"2021-07-20T06:00Z","p":30880,"text":"Potential dip into"},
{"t":"2021-07-20T06:00Z","p":30570,"text":"the demand zone"}
]
},
"layer":[
{"data":{"name":"zones"},
 "mark":{"type":"rect"},
 "encoding":{
  "x":{"field":"t","type":"temporal","title":null,
   "scale":{"type":"utc","domain":["2021-05-17T21:10Z","2021-08-12T15:00Z"]},
   "axis":{"orient":"bottom","offset":-17,"grid":false,"title":null,"domainColor":"#eceff3","domainWidth":1.5,"tickColor":"#dcdfe6","tickSize":3,"labelPadding":2,"labelFont":"Noto Sans","labelFontSize":8.6,"labelColor":"#333333","labelFontWeight":{"condition":{"test":"utcdate(datum.value)==1","value":"bold"},"value":"normal"},"labelOverlap":false,"labelFlush":false,
    "values":[1621814400000,1622505600000,1623024000000,1623628800000,1624233600000,1624665600000,1625097600000,1625529600000,1626048000000,1626652800000,1627257600000,1627776000000,1628467200000],
    "labelExpr":"utcdate(datum.value)==1 ? utcFormat(datum.value,'%b') : utcFormat(datum.value,'%-d')"}},
  "x2":{"field":"t2"},
  "y":{"field":"p","type":"quantitative","title":null,
   "scale":{"type":"log","domain":[27077,48480],"nice":false},
   "axis":{"orient":"right","offset":-37,"grid":false,"title":null,"domainColor":"#e0e3eb","domainWidth":1.5,"tickColor":"#c8ccd4","tickSize":3,"labelPadding":3,"labelFont":"Noto Sans","labelFontSize":8.6,"labelColor":"#4a4a4a","labelOverlap":false,"labelFlush":false,"format":"d",
    "values":[47000,45000,43000,41000,40000,39000,37400,35800,35000,34200,33450,32650,31050,30450,29850,29250,28650,28090,27550]}},
  "y2":{"field":"p2"},
  "color":{"field":"kind","type":"nominal","legend":null,
   "scale":{"domain":["consolidation","target","demand"],"range":["#dedee1","#dceedd","#fad1e0"]}}
 }},
{"data":{"name":"verticals"},
 "mark":{"type":"rule","color":"#7a7a7a","strokeWidth":1.2},
 "encoding":{"x":{"field":"t","type":"temporal","title":null},"y":{"field":"p","type":"quantitative","title":null},"y2":{"field":"p2"}}},
{"data":{"name":"levels"},"transform":[{"filter":"datum.kind=='black dash'"}],
 "mark":{"type":"rule","color":"#555555","strokeWidth":1,"strokeDash":[3,3]},
 "encoding":{"x":{"field":"t","type":"temporal","title":null},"x2":{"field":"t2"},"y":{"field":"p","type":"quantitative","title":null}}},
{"data":{"name":"levels"},"transform":[{"filter":"datum.kind=='green dash'"}],
 "mark":{"type":"rule","color":"#4fc456","strokeWidth":1,"strokeDash":[4,4]},
 "encoding":{"x":{"field":"t","type":"temporal","title":null},"x2":{"field":"t2"},"y":{"field":"p","type":"quantitative","title":null}}},
{"data":{"name":"levels"},"transform":[{"filter":"datum.kind=='fib dark'"}],
 "mark":{"type":"rule","color":"#555555","strokeWidth":1},
 "encoding":{"x":{"field":"t","type":"temporal","title":null},"x2":{"field":"t2"},"y":{"field":"p","type":"quantitative","title":null}}},
{"data":{"name":"levels"},"transform":[{"filter":"datum.kind=='fib 0.79'"}],
 "mark":{"type":"rule","color":"#e98a8a","strokeWidth":1},
 "encoding":{"x":{"field":"t","type":"temporal","title":null},"x2":{"field":"t2"},"y":{"field":"p","type":"quantitative","title":null}}},
{"data":{"name":"levels"},"transform":[{"filter":"datum.kind=='fib 0.705'"}],
 "mark":{"type":"rule","color":"#ffb347","strokeWidth":1.2},
 "encoding":{"x":{"field":"t","type":"temporal","title":null},"x2":{"field":"t2"},"y":{"field":"p","type":"quantitative","title":null}}},
{"data":{"name":"levels"},"transform":[{"filter":"datum.kind=='fib 0.62'"}],
 "mark":{"type":"rule","color":"#a5d6a7","strokeWidth":2},
 "encoding":{"x":{"field":"t","type":"temporal","title":null},"x2":{"field":"t2"},"y":{"field":"p","type":"quantitative","title":null}}},
{"data":{"name":"levels"},"transform":[{"filter":"datum.kind=='fib 0.5'"}],
 "mark":{"type":"rule","color":"#8e8e8e","strokeWidth":1.8},
 "encoding":{"x":{"field":"t","type":"temporal","title":null},"x2":{"field":"t2"},"y":{"field":"p","type":"quantitative","title":null}}},
{"data":{"name":"levels"},"transform":[{"filter":"datum.kind=='old 0.5'"}],
 "mark":{"type":"rule","color":"#f06292","strokeWidth":1},
 "encoding":{"x":{"field":"t","type":"temporal","title":null},"x2":{"field":"t2"},"y":{"field":"p","type":"quantitative","title":null}}},
{"data":{"name":"levels"},"transform":[{"filter":"datum.kind=='teal'"}],
 "mark":{"type":"rule","color":"#86cfc6","strokeWidth":2},
 "encoding":{"x":{"field":"t","type":"temporal","title":null},"x2":{"field":"t2"},"y":{"field":"p","type":"quantitative","title":null}}},
{"data":{"name":"candles"},
 "mark":{"type":"rule","strokeWidth":1,"opacity":0.5},
 "encoding":{
  "x":{"field":"t","type":"temporal","title":null},
  "y":{"field":"l","type":"quantitative","title":null},"y2":{"field":"h"},
  "color":{"condition":{"test":"datum.c>=datum.o","value":"#388e3c"},"value":"#ff5046"}
 }},
{"data":{"name":"candles"},
 "mark":{"type":"rule","strokeWidth":1.8},
 "encoding":{
  "x":{"field":"t","type":"temporal","title":null},
  "y":{"field":"o","type":"quantitative","title":null},"y2":{"field":"c"},
  "color":{"condition":{"test":"datum.c>=datum.o","value":"#2e8b3c"},"value":"#ff3b30"}
 }},
{"data":{"name":"curves"},
 "mark":{"type":"line","interpolate":"monotone","strokeWidth":1},
 "encoding":{
  "x":{"field":"t","type":"temporal","title":null},
  "y":{"field":"p","type":"quantitative","title":null},
  "detail":{"field":"id"},"order":{"field":"n","type":"ordinal"},
  "color":{"field":"kind","type":"nominal","legend":null,"scale":{"domain":["black","red","dark dash"],"range":["#444444","#e0606e","#444444"]}},
  "strokeDash":{"field":"kind","type":"nominal","legend":null,"scale":{"domain":["black","red","dark dash"],"range":[[1,0],[4,4],[2,2]]}}
 }},
{"data":{"name":"heads"},
 "mark":{"type":"line","strokeWidth":1},
 "encoding":{
  "x":{"field":"t","type":"temporal","title":null},
  "y":{"field":"p","type":"quantitative","title":null},
  "detail":{"field":"id"},"order":{"field":"n","type":"ordinal"},
  "color":{"field":"kind","type":"nominal","legend":null,"scale":{"domain":["black","red"],"range":["#444444","#e0606e"]}}
 }},
{"data":{"name":"crosses"},
 "mark":{"type":"point","shape":"cross","angle":45,"filled":true,"size":60,"color":"#000000","opacity":1},
 "encoding":{"x":{"field":"t","type":"temporal","title":null},"y":{"field":"p","type":"quantitative","title":null}}},
{"data":{"name":"logo"},
 "mark":{"type":"point","shape":"M-1,0.6 C-1,0.2 -0.75,0 -0.5,0 C-0.4,-0.35 -0.25,-0.6 -0.05,-0.6 C0.2,-0.6 0.3,-0.35 0.4,-0.15 C0.7,-0.15 1,0.2 1,0.6 L0.3,0.6 L0.05,0.25 L-0.3,0.6 Z","filled":true,"size":320,"color":"#2196f3","opacity":1},
 "encoding":{"x":{"field":"t","type":"temporal","title":null},"y":{"field":"p","type":"quantitative","title":null}}},
{"data":{"name":"usd"},
 "mark":{"type":"rect","fill":"#ffffff","stroke":"#e0e3eb","cornerRadius":3},
 "encoding":{"x":{"field":"t","type":"temporal","title":null},"x2":{"field":"t2"},"y":{"field":"p","type":"quantitative","title":null},"y2":{"field":"p2"}}},
{"data":{"name":"boxes"},
 "mark":{"type":"rect"},
 "encoding":{
  "x":{"field":"t","type":"temporal","title":null},"x2":{"field":"t2"},
  "y":{"field":"p","type":"quantitative","title":null},"y2":{"field":"p2"},
  "color":{"field":"kind","type":"nominal","legend":null,"scale":{"domain":["black","green","teal","red"],"range":["#000000","#4caf50","#009688","#ff3f33"]}}
 }},
{"data":{"name":"boxtext"},
 "mark":{"type":"text","font":"Noto Sans","fontSize":8.6,"align":"center","baseline":"middle","color":"#ffffff"},
 "encoding":{"x":{"field":"t","type":"temporal","title":null},"y":{"field":"p","type":"quantitative","title":null},"text":{"field":"text"}}},
{"data":{"name":"small"},
 "mark":{"type":"text","font":"Noto Sans","fontSize":8.6,"align":"left","baseline":"middle"},
 "encoding":{
  "x":{"field":"t","type":"temporal","title":null},"y":{"field":"p","type":"quantitative","title":null},"text":{"field":"text"},
  "color":{"field":"kind","type":"nominal","legend":null,"scale":{"domain":["grey","red","orange","green","pink"],"range":["#444444","#f4524d","#ff9800","#4caf50","#e91e63"]}}
 }},
{"data":{"name":"bold"},
 "mark":{"type":"text","font":"Noto Sans","fontSize":8.6,"fontWeight":"bold","align":"left","baseline":"middle","color":"#222222"},
 "encoding":{"x":{"field":"t","type":"temporal","title":null},"y":{"field":"p","type":"quantitative","title":null},"text":{"field":"text"}}},
{"data":{"name":"notes"},
 "mark":{"type":"text","font":"Noto Sans","fontSize":10.5,"align":"center","baseline":"middle","color":"#2a2a2a"},
 "encoding":{"x":{"field":"t","type":"temporal","title":null},"y":{"field":"p","type":"quantitative","title":null},"text":{"field":"text"}}}
],
"resolve":{"scale":{"color":"independent","strokeDash":"independent"}}
}
